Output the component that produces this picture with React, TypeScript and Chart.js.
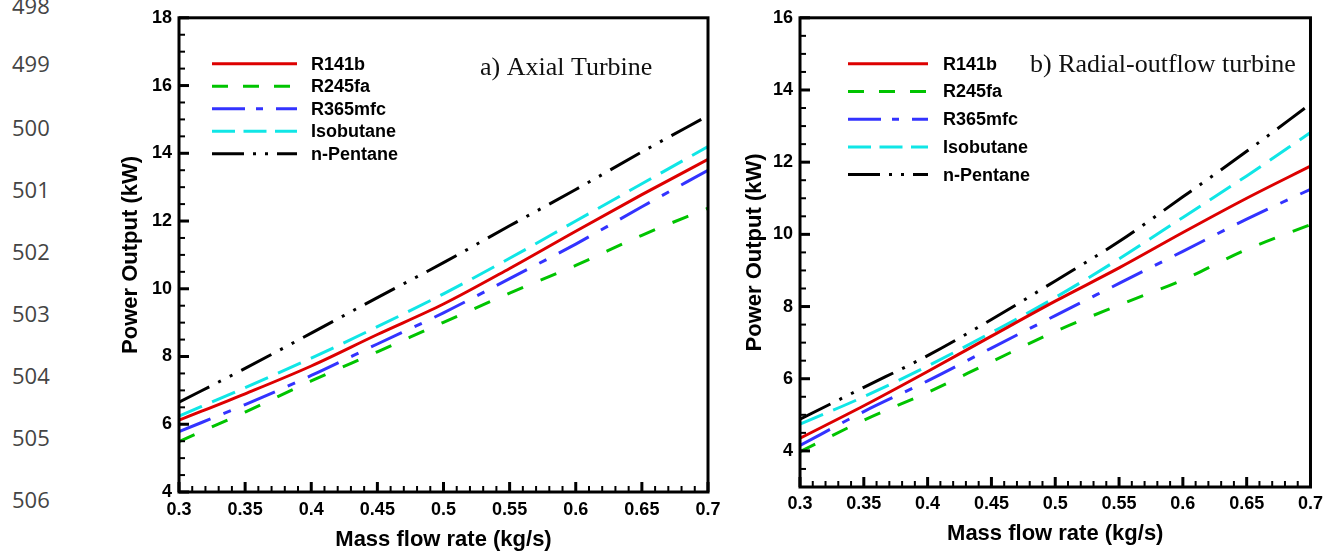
import React, { useEffect, useRef } from "react";
import { Chart, registerables } from "chart.js";

Chart.register(...registerables);

// ---------- data ----------
const SERIES_NAMES = ["R141b", "R245fa", "R365mfc", "Isobutane", "n-Pentane"];
const MASS_FLOW = [0.3, 0.35, 0.4, 0.45, 0.5, 0.55, 0.6, 0.65, 0.7];

// a) Axial Turbine
const AXIAL_R141B = [6.12, 6.9, 7.72, 8.65, 9.55, 10.6, 11.7, 12.78, 13.82];
const AXIAL_R245FA = [5.49, 6.36, 7.28, 8.14, 9.01, 9.87, 10.69, 11.58, 12.38];
const AXIAL_R365MFC = [5.78, 6.58, 7.44, 8.37, 9.29, 10.3, 11.32, 12.42, 13.5];
const AXIAL_ISOBUTANE = [6.24, 7.08, 7.95, 8.88, 9.85, 10.9, 12.0, 13.1, 14.2];
const AXIAL_NPENTANE = [6.65, 7.65, 8.69, 9.74, 10.77, 11.86, 12.93, 14.04, 15.11];

// b) Radial-outflow turbine
const RADIAL_R141B = [4.35, 5.25, 6.2, 7.18, 8.15, 9.07, 10.05, 11.0, 11.89];
const RADIAL_R245FA = [3.98, 4.85, 5.62, 6.47, 7.31, 8.04, 8.74, 9.58, 10.27];
const RADIAL_R365MFC = [4.15, 5.09, 5.94, 6.85, 7.75, 8.64, 9.53, 10.42, 11.25];
const RADIAL_ISOBUTANE = [4.74, 5.5, 6.35, 7.28, 8.25, 9.32, 10.47, 11.62, 12.82];
const RADIAL_NPENTANE = [4.88, 5.76, 6.64, 7.64, 8.71, 9.8, 11.04, 12.3, 13.61];

const X_TICKS = [0.3, 0.35, 0.4, 0.45, 0.5, 0.55, 0.6, 0.65, 0.7];
const X_TICK_LABELS = ["0.3", "0.35", "0.4", "0.45", "0.5", "0.55", "0.6", "0.65", "0.7"];
const AXIAL_Y_TICKS = [4, 6, 8, 10, 12, 14, 16, 18];
const RADIAL_Y_TICKS = [4, 6, 8, 10, 12, 14, 16];

const TITLE_AXIAL = "a) Axial Turbine";
const TITLE_RADIAL = "b) Radial-outflow turbine";
const X_TITLE = "Mass flow rate (kg/s)";
const Y_TITLE = "Power Output (kW)";
const LINE_NUMBERS = ["498", "499", "500", "501", "502", "503", "504", "505", "506"];

// ---------- styles ----------
const COLORS = ["#dd0000", "#00c400", "#3333ff", "#10e6e6", "#000000"];
const LINE_DASH = [[], [17, 19], [34, 14, 8, 14], [25, 11], [34, 10, 3, 10, 3, 10]];
const LEGEND_DASH = [[], [16, 15], [33, 11, 7, 13], [23, 8.5], [32, 9, 3, 9, 3, 9]];
const SANS = "'Liberation Sans', Arial, Helvetica, sans-serif";
const SERIF = "'Liberation Serif', 'Times New Roman', serif";

type PanelCfg = {
  title: string;
  titleDx: number;
  titleDy: number;
  legendX1: number;
  legendX2: number;
  legendTextX: number;
  legendY0: number;
  legendStep: number;
};

const panelPlugin = (cfg: PanelCfg) => ({
  id: "panelDecor",
  afterDatasetsDraw(chart: any) {
    const { ctx, chartArea: a, scales } = chart;
    const xs = scales.x;
    const ys = scales.y;
    ctx.save();
    ctx.strokeStyle = "#000";
    ctx.lineCap = "butt";
    const seg = (x1: number, y1: number, x2: number, y2: number, w: number) => {
      ctx.lineWidth = w;
      ctx.beginPath();
      ctx.moveTo(x1, y1);
      ctx.lineTo(x2, y2);
      ctx.stroke();
    };
    // y ticks: minor every 0.5, major on tick list
    const yMin = ys.min;
    const yMax = ys.max;
    for (let k = Math.ceil(yMin * 2); k <= Math.floor(yMax * 2); k++) {
      const v = k / 2;
      const py = ys.getPixelForValue(v);
      const major = ys.ticks.some((t: any) => Math.abs(t.value - v) < 1e-6);
      seg(a.left, py, a.left + (major ? 10 : 6), py, major ? 3 : 2);
    }
    // x ticks: minor every 0.01
    for (let k = Math.round(xs.min * 100); k <= Math.round(xs.max * 100); k++) {
      const v = k / 100;
      const px = xs.getPixelForValue(v);
      const major = k % 5 === 0;
      seg(px, a.bottom, px, a.bottom - (major ? 10 : 6), major ? 3 : 2);
    }
    // frame
    ctx.lineWidth = 3;
    ctx.strokeRect(a.left, a.top, a.right - a.left, a.bottom - a.top);

    // legend
    chart.data.datasets.forEach((ds: any, i: number) => {
      const yy = a.top + cfg.legendY0 + i * cfg.legendStep;
      ctx.save();
      ctx.strokeStyle = ds.borderColor;
      ctx.lineWidth = 3;
      ctx.setLineDash(LEGEND_DASH[i]);
      ctx.beginPath();
      ctx.moveTo(a.left + cfg.legendX1, yy);
      ctx.lineTo(a.left + cfg.legendX2, yy);
      ctx.stroke();
      ctx.restore();
      ctx.fillStyle = "#000";
      ctx.font = `bold 18px ${SANS}`;
      ctx.textBaseline = "middle";
      ctx.textAlign = "left";
      ctx.fillText(ds.label, a.left + cfg.legendTextX, yy + 1);
    });

    // panel title
    ctx.fillStyle = "#111";
    ctx.font = `26px ${SERIF}`;
    ctx.textBaseline = "alphabetic";
    ctx.textAlign = "left";
    ctx.fillText(cfg.title, a.left + cfg.titleDx, a.top + cfg.titleDy);
    ctx.restore();
  },
});

type ChartProps = {
  left: number;
  width: number;
  series: number[][];
  yMin: number;
  yMax: number;
  yTicks: number[];
  padTop: number;
  padRight: number;
  yAxisWidth: number;
  xAxisHeight: number;
  yTitlePad: number;
  xTickPad: number;
  xTitlePad: number;
  panel: PanelCfg;
};

function Panel(props: ChartProps) {
  const ref = useRef<HTMLCanvasElement | null>(null);
  useEffect(() => {
    if (!ref.current) return;
    const datasets = props.series.map((vals, i) => ({
      label: SERIES_NAMES[i],
      data: MASS_FLOW.map((x, j) => ({ x, y: vals[j] })),
      borderColor: COLORS[i],
      backgroundColor: COLORS[i],
      borderWidth: 3,
      borderDash: LINE_DASH[i],
      pointRadius: 0,
      cubicInterpolationMode: "monotone" as const,
      fill: false,
    }));
    const tickFont = { family: SANS, size: 18, weight: "bold" as const };
    const titleFont = { family: SANS, size: 22, weight: "bold" as const, lineHeight: 1 };
    const chart = new Chart(ref.current, {
      type: "line",
      data: { datasets },
      plugins: [panelPlugin(props.panel)],
      options: {
        animation: false,
        responsive: false,
        maintainAspectRatio: false,
        devicePixelRatio: 1,
        layout: { padding: { top: props.padTop, right: props.padRight, left: 0, bottom: 0 } },
        plugins: { legend: { display: false }, tooltip: { enabled: false }, title: { display: false } },
        scales: {
          x: {
            type: "linear",
            min: 0.3,
            max: 0.7,
            afterBuildTicks: (s: any) => {
              s.ticks = X_TICKS.map((v) => ({ value: v }));
            },
            afterFit: (s: any) => {
              s.height = props.xAxisHeight;
            },
            grid: { display: false, drawTicks: false },
            border: { display: false },
            ticks: {
              autoSkip: false,
              maxRotation: 0,
              padding: props.xTickPad,
              color: "#000",
              font: tickFont,
              callback: (v: any) => {
                const i = X_TICKS.findIndex((t) => Math.abs(t - Number(v)) < 1e-6);
                return i >= 0 ? X_TICK_LABELS[i] : "";
              },
            },
            title: {
              display: true,
              text: X_TITLE,
              color: "#000",
              font: titleFont,
              padding: { top: 0, bottom: props.xTitlePad },
            },
          },
          y: {
            type: "linear",
            min: props.yMin,
            max: props.yMax,
            afterBuildTicks: (s: any) => {
              s.ticks = props.yTicks.map((v) => ({ value: v }));
            },
            afterFit: (s: any) => {
              s.width = props.yAxisWidth;
            },
            grid: { display: false, drawTicks: false },
            border: { display: false },
            ticks: {
              autoSkip: false,
              padding: 7,
              color: "#000",
              font: tickFont,
              callback: (v: any) => String(v),
            },
            title: {
              display: true,
              text: Y_TITLE,
              color: "#000",
              font: titleFont,
              padding: { top: props.yTitlePad, bottom: 0 },
            },
          },
        },
      },
    } as any);
    return () => chart.destroy();
  }, []);
  return (
    <canvas
      ref={ref}
      width={props.width}
      height={551}
      style={{ position: "absolute", left: props.left, top: 0, width: props.width, height: 551 }}
    />
  );
}

export default function App() {
  const lineNumberY = [5, 63, 127, 189, 251, 313, 375, 437, 499];
  return (
    <div style={{ position: "absolute", left: 0, top: 0, width: 1329, height: 551, background: "#fff", overflow: "hidden" }}>
      {LINE_NUMBERS.map((n, i) => (
        <div
          key={n}
          style={{
            position: "absolute",
            left: 12,
            top: lineNumberY[i] - 15,
            height: 30,
            lineHeight: "30px",
            fontFamily: "'Open Sans', 'Noto Sans', sans-serif",
            fontSize: 22,
            color: "#444",
          }}
        >
          {n}
        </div>
      ))}
      <Panel
        left={100}
        width={630}
        series={[AXIAL_R141B, AXIAL_R245FA, AXIAL_R365MFC, AXIAL_ISOBUTANE, AXIAL_NPENTANE]}
        yMin={4}
        yMax={18}
        yTicks={AXIAL_Y_TICKS}
        padTop={11}
        padRight={22}
        yAxisWidth={79}
        xAxisHeight={59}
        yTitlePad={20}
        xTickPad={7}
        xTitlePad={0}
        panel={{
          title: TITLE_AXIAL,
          titleDx: 301,
          titleDy: 57,
          legendX1: 33,
          legendX2: 118,
          legendTextX: 132,
          legendY0: 46,
          legendStep: 22.5,
        }}
      />
      <Panel
        left={730}
        width={599}
        series={[RADIAL_R141B, RADIAL_R245FA, RADIAL_R365MFC, RADIAL_ISOBUTANE, RADIAL_NPENTANE]}
        yMin={3}
        yMax={16}
        yTicks={RADIAL_Y_TICKS}
        padTop={14}
        padRight={13}
        yAxisWidth={70}
        xAxisHeight={64}
        yTitlePad={14}
        xTickPad={6}
        xTitlePad={6}
        panel={{
          title: TITLE_RADIAL,
          titleDx: 230,
          titleDy: 54,
          legendX1: 48,
          legendX2: 128,
          legendTextX: 143,
          legendY0: 46,
          legendStep: 27.7,
        }}
      />
    </div>
  );
}
